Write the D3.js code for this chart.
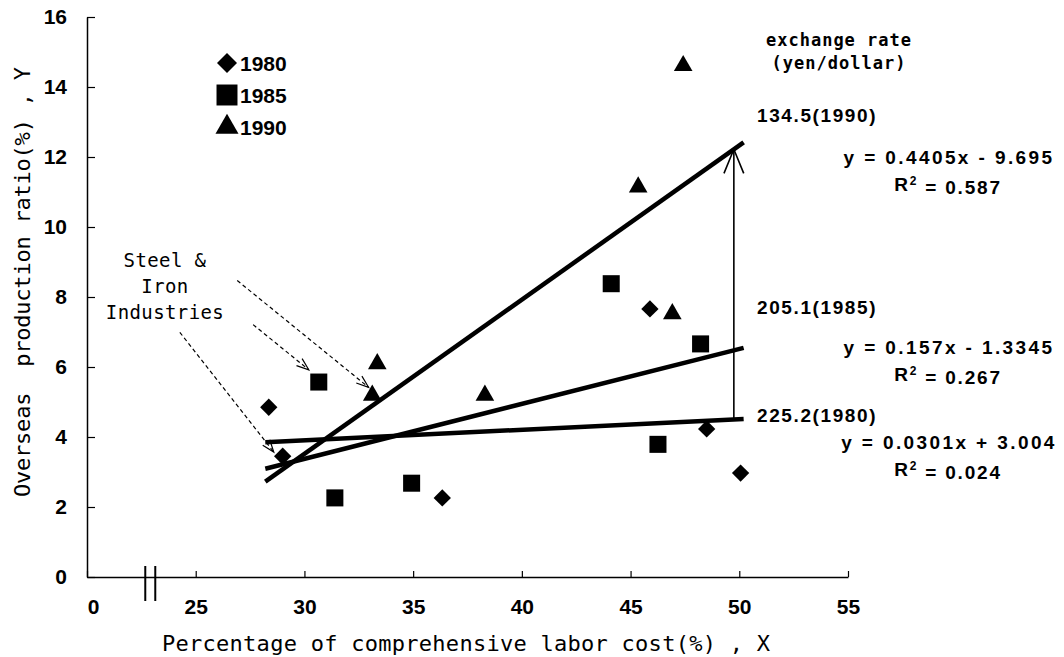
<!DOCTYPE html>
<html>
<head>
<meta charset="utf-8">
<script src="https://cdn.jsdelivr.net/npm/d3@7"></script>
<style>
  body { margin: 0; background: #fff; }
  svg { display: block; }
</style>
</head>
<body>
<svg id="chart" width="1064" height="657"></svg>
<script>
// data
const x1980 = [28.36, 29.0, 36.34, 45.89, 48.5, 50.06];
const y1980 = [4.85, 3.45, 2.26, 7.66, 4.23, 2.97];
const x1985 = [30.66, 31.4, 34.93, 44.11, 46.26, 48.22];
const y1985 = [5.57, 2.26, 2.68, 8.38, 3.79, 6.66];
const x1990 = [33.12, 33.35, 38.3, 45.35, 46.92, 47.42];
const y1990 = [5.19, 6.09, 5.19, 11.14, 7.52, 14.61];

const years = ["1980", "1985", "1990"];
const slopes = [0.0301, 0.157, 0.4405];
const intercepts = [3.004, -1.3345, -9.695];
const rSquared = ["0.024", "0.267", "0.587"];
const rateLabels = ["225.2(1980)", "205.1(1985)", "134.5(1990)"];
const fitRange = [28.2, 50.2];

const xTickValues = [20, 25, 30, 35, 40, 45, 50, 55];
const xTickLabels = ["0", "25", "30", "35", "40", "45", "50", "55"];
const yTickValues = [0, 2, 4, 6, 8, 10, 12, 14, 16];

// "Steel & Iron Industries" pointers (data space)
const steelFrom = [[26.91, 8.47], [27.64, 7.21], [24.27, 6.99]];
const steelTo = [[32.95, 5.42], [30.2, 5.92], [28.59, 3.57]];
const rateArrowX = 49.75;
const breakX = [22.68, 23.14];

const svg = d3.select("#chart");
const width = 1064, height = 657;
const margin = { top: 17, right: 216, bottom: 80, left: 87 };
const innerWidth = width - margin.left - margin.right;
const innerHeight = height - margin.top - margin.bottom;

const g = svg.append("g")
    .attr("transform", `translate(${margin.left},${margin.top})`);

const x = d3.scaleLinear().domain([20, 55]).range([0, innerWidth]);
const y = d3.scaleLinear().domain([0, 16]).range([innerHeight, 0]);

const numFont = "'Liberation Sans', Arial, sans-serif";
const monoFont = "'DejaVu Sans Mono', monospace";

// axes
const xAxis = d3.axisBottom(x)
    .tickValues(xTickValues)
    .tickFormat((d, i) => xTickLabels[i])
    .tickSizeInner(-6).tickSizeOuter(0).tickPadding(22);
const xg = g.append("g")
    .attr("transform", `translate(0,${innerHeight})`)
    .call(xAxis)
    .attr("font-family", numFont).attr("font-size", 21).attr("font-weight", "bold");
xg.select(".domain").attr("stroke-width", 1.5);
xg.selectAll(".tick line").attr("stroke-width", 1.2);
xg.selectAll(".tick text").filter(d => d === 20).attr("dx", 6);

const yAxis = d3.axisLeft(y)
    .tickValues(yTickValues)
    .tickSizeInner(-8).tickSizeOuter(0).tickPadding(20);
const yg = g.append("g").call(yAxis)
    .attr("font-family", numFont).attr("font-size", 21).attr("font-weight", "bold");
yg.select(".domain").attr("stroke-width", 1.5);
yg.selectAll(".tick line").attr("stroke-width", 1.2);

// axis break
g.selectAll(".break").data(breakX).join("line")
    .attr("x1", d => x(d)).attr("x2", d => x(d))
    .attr("y1", innerHeight - 11).attr("y2", innerHeight + 24)
    .attr("stroke", "#000").attr("stroke-width", 2);

// axis titles
svg.append("text")
    .attr("x", 162).attr("y", 651)
    .attr("font-family", monoFont).attr("font-size", 22)
    .attr("textLength", 608).attr("lengthAdjust", "spacing")
    .style("white-space", "pre")
    .text("Percentage of comprehensive labor cost(%) , X");

svg.append("text")
    .attr("transform", "translate(30,497) rotate(-90)")
    .attr("font-family", monoFont).attr("font-size", 22)
    .attr("textLength", 430).attr("lengthAdjust", "spacing")
    .style("white-space", "pre")
    .text("Overseas  production ratio(%) , Y");

// regression lines
const line = d3.line().x(d => x(d[0])).y(d => y(d[1]));
years.forEach((yr, i) => {
    const pts = fitRange.map(v => [v, slopes[i] * v + intercepts[i]]);
    g.append("path")
        .datum(pts)
        .attr("fill", "none")
        .attr("stroke", "#000")
        .attr("stroke-width", 4.5)
        .attr("d", line);
});

// points
const symbols = [
    { type: d3.symbolSquare, size: 150, rot: 45 },
    { type: d3.symbolSquare, size: 290, rot: 0 },
    { type: d3.symbolTriangle, size: 150, rot: 0 }
];
const seriesX = [x1980, x1985, x1990];
const seriesY = [y1980, y1985, y1990];
years.forEach((yr, i) => {
    const pts = seriesX[i].map((v, j) => [v, seriesY[i][j]]);
    g.selectAll(".pt" + yr).data(pts).join("path")
        .attr("d", d3.symbol().type(symbols[i].type).size(symbols[i].size))
        .attr("transform", d => `translate(${x(d[0])},${y(d[1])}) rotate(${symbols[i].rot})`)
        .attr("fill", "#000");
});

// arrow helper (open V head)
function arrow(sel, x0, y0, x1, y1, len, ang, dashed, sw) {
    sel.append("line")
        .attr("x1", x0).attr("y1", y0).attr("x2", x1).attr("y2", y1)
        .attr("stroke", "#000").attr("stroke-width", sw)
        .attr("stroke-dasharray", dashed ? "4,3" : null);
    const a = Math.atan2(y1 - y0, x1 - x0);
    const p1 = [x1 - len * Math.cos(a - ang), y1 - len * Math.sin(a - ang)];
    const p2 = [x1 - len * Math.cos(a + ang), y1 - len * Math.sin(a + ang)];
    sel.append("path")
        .attr("d", `M${p1[0]},${p1[1]}L${x1},${y1}L${p2[0]},${p2[1]}`)
        .attr("fill", "none").attr("stroke", "#000").attr("stroke-width", sw);
}

steelFrom.forEach((f, i) => {
    arrow(g, x(f[0]), y(f[1]), x(steelTo[i][0]), y(steelTo[i][1]), 13, 0.35, true, 1.2);
});

// exchange-rate arrow between the 1980 and 1990 fits
arrow(g, x(rateArrowX), y(slopes[0] * rateArrowX + intercepts[0]),
    x(rateArrowX), y(slopes[2] * rateArrowX + intercepts[2]), 26, 0.39, false, 1.6);

// legend
const legend = svg.append("g").attr("transform", "translate(227,63)");
const legendSymbols = [
    { type: d3.symbolSquare, size: 200, rot: 45 },
    { type: d3.symbolSquare, size: 440, rot: 0 },
    { type: d3.symbolTriangle, size: 230, rot: 0 }
];
years.forEach((yr, i) => {
    const row = legend.append("g").attr("transform", `translate(0,${i * 32})`);
    row.append("path")
        .attr("d", d3.symbol().type(legendSymbols[i].type).size(legendSymbols[i].size))
        .attr("transform", `rotate(${legendSymbols[i].rot})`)
        .attr("fill", "#000");
    row.append("text")
        .attr("x", 13).attr("dy", "0.36em")
        .attr("font-family", numFont).attr("font-size", 21)
        .attr("font-weight", "bold")
        .text(yr);
});

// Steel & Iron Industries label
["Steel &", "Iron", "Industries"].forEach((t, i) => {
    svg.append("text")
        .attr("x", 165).attr("y", 260 + i * 26).attr("dy", "0.35em")
        .attr("text-anchor", "middle")
        .attr("font-family", monoFont).attr("font-size", 19)
        .attr("letter-spacing", 0.4)
        .style("white-space", "pre")
        .text(t);
});

// exchange rate header
["exchange rate", "(yen/dollar)"].forEach((t, i) => {
    svg.append("text")
        .attr("x", 839).attr("y", 40 + i * 23).attr("dy", "0.35em")
        .attr("text-anchor", "middle")
        .attr("font-family", monoFont).attr("font-size", 17)
        .attr("font-weight", "bold")
        .attr("letter-spacing", 1)
        .text(t);
});

// rate labels and equations
const rateY = [415, 307, 115];
const eqY = [442, 347, 157];
years.forEach((yr, i) => {
    svg.append("text")
        .attr("x", 757).attr("y", rateY[i]).attr("dy", "0.35em")
        .attr("font-family", numFont).attr("font-size", 19)
        .attr("font-weight", "bold")
        .attr("letter-spacing", 1.6)
        .text(rateLabels[i]);

    const b = intercepts[i];
    svg.append("text")
        .attr("x", 949).attr("y", eqY[i]).attr("dy", "0.35em")
        .attr("text-anchor", "middle")
        .attr("font-family", numFont).attr("font-size", 19)
        .attr("font-weight", "bold")
        .attr("letter-spacing", 2.4)
        .text(`y = ${slopes[i]}x ${b < 0 ? "-" : "+"} ${Math.abs(b)}`);

    const r = svg.append("text")
        .attr("x", 948).attr("y", eqY[i] + 27).attr("dy", "0.35em")
        .attr("text-anchor", "middle")
        .attr("font-family", numFont).attr("font-size", 19)
        .attr("font-weight", "bold")
        .attr("letter-spacing", 1.8);
    r.append("tspan").text("R");
    r.append("tspan").attr("dy", "-0.45em").attr("font-size", 12).text("2");
    r.append("tspan").attr("dy", "0.45em").text(" = " + rSquared[i]);
});
</script>
</body>
</html>
